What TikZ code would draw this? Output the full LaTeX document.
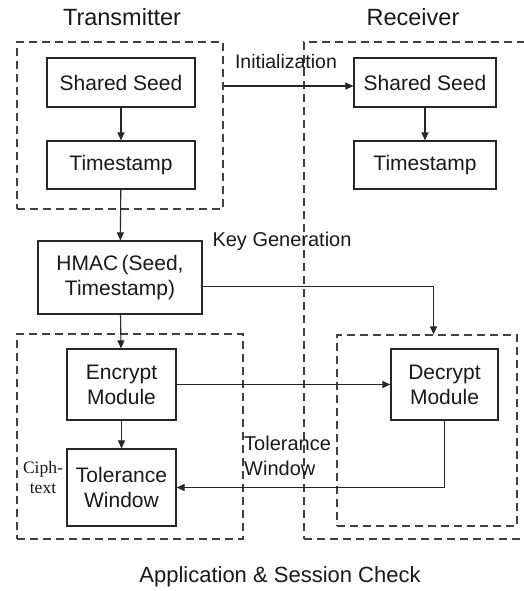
\documentclass[tikz,border=0pt]{standalone}
\usepackage{fontspec}
\setmainfont{Liberation Sans}
\newfontfamily\cipherfont{Liberation Serif}
\usetikzlibrary{arrows.meta}
\begin{document}
\begin{tikzpicture}[x=1pt,y=-1pt,
  box/.style={draw=black!85, line width=1.2pt, inner sep=0pt, align=center, font=\fontsize{21}{25}\selectfont, text=black!90},
  grp/.style={draw=black!75, line width=1.2pt, dash pattern=on 8pt off 5pt, inner sep=0pt},
  lbl/.style={inner sep=0pt, font=\fontsize{20}{25}\selectfont, text=black!90},
  title/.style={inner sep=0pt, font=\fontsize{23.5}{28}\selectfont, text=black!90},
  arr/.style={draw=black!85, line width=1.1pt, -{Triangle[length=8pt,width=7pt]}}]
\clip (0,0) rectangle (524,591);
\fill[white] (0,0) rectangle (524,591);
% group boxes
\node[grp, minimum width=206pt, minimum height=167pt] (txtop) at (120,125.5) {};
\node[grp, minimum width=226pt, minimum height=497pt] (rxgrp) at (417,290.5) {};
\node[grp, minimum width=226pt, minimum height=205pt] (txbot) at (130,436.5) {};
\node[grp, minimum width=180pt, minimum height=191pt] (decgrp) at (427,430.5) {};
% titles
\node[title] (ttx) at (122,17) {Transmitter};
\node[title] (trx) at (413,17) {Receiver};
% boxes
\node[box, minimum width=148pt, minimum height=49pt] (ssT) at (121,82.5) {Shared Seed};
\node[box, minimum width=148pt, minimum height=48pt] (tsT) at (121,165) {Timestamp};
\node[box, minimum width=142pt, minimum height=49pt] (ssR) at (425,82.5) {Shared Seed};
\node[box, minimum width=142pt, minimum height=48pt] (tsR) at (425,165) {Timestamp};
\node[box, minimum width=164pt, minimum height=73pt] (hmac) at (120,277.5) {HMAC\,(Seed,\\Timestamp)};
\node[box, minimum width=109pt, minimum height=71pt] (enc) at (121.5,384.5) {Encrypt\\Module};
\node[box, minimum width=107pt, minimum height=71pt] (dec) at (444.5,384.5) {Decrypt\\Module};
\node[box, minimum width=109pt, minimum height=77pt] (tol) at (121.5,487.5) {Tolerance\\Window};
% labels
\node[lbl, font=\fontsize{19.5}{24}\selectfont] (linit) at (286,62) {Initialization};
\node[lbl] (lkey) at (282,241) {Key Generation};
\node[lbl, align=left, anchor=west] (ltol) at (244,455.5) {Tolerance\\Window};
\node[inner sep=0pt, align=center, font=\cipherfont\fontsize{17.5}{20}\selectfont, text=black!90] (lcip) at (43,478) {Ciph-\\text};
\node[title, font=\fontsize{22}{26}\selectfont] (lapp) at (280,577) {Application \& Session Check};
% connectors
\draw[arr] (ssT) -- (tsT);
\draw[arr] (ssR) -- (tsR);
\draw[arr] (txtop.east |- 0,86) -- (ssR.west |- 0,86);
\draw[arr] (tsT) -- (hmac);
\draw[arr] (hmac) -- (enc);
\draw[arr] (enc) -- (tol);
\draw[arr] (enc) -- (dec);
\draw[arr] (hmac.east |- 0,286.5) -| (433.5,0 |- decgrp.north);
\draw[arr] (dec.south) |- (tol.east);
\end{tikzpicture}
\end{document}
